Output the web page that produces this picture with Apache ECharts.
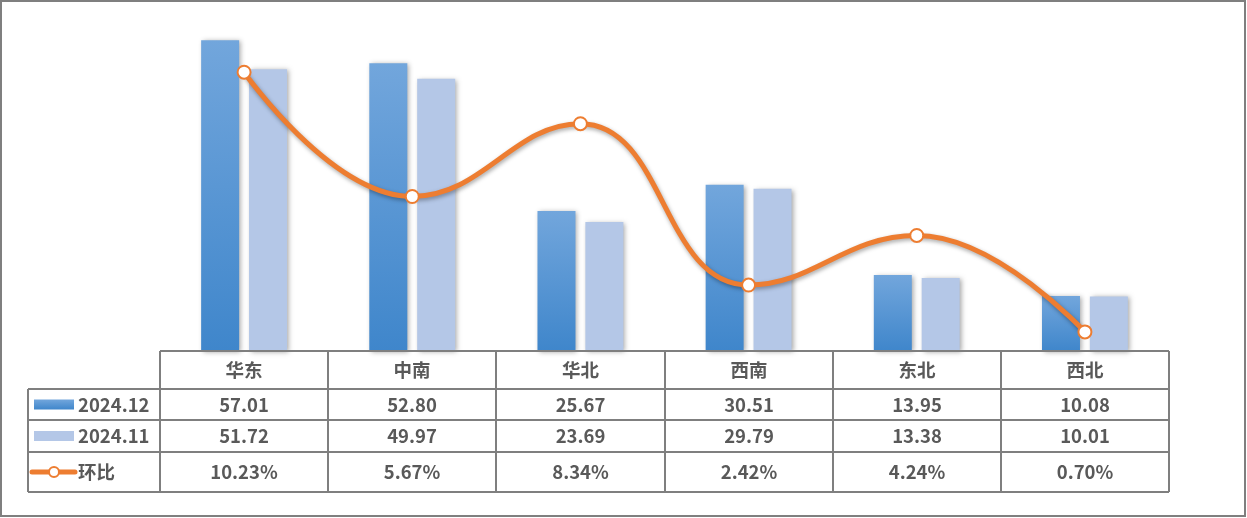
<!DOCTYPE html>
<html><head><meta charset="utf-8">
<script src="https://cdn.jsdelivr.net/npm/echarts@6/dist/echarts.min.js"></script>
<style>html,body{margin:0;padding:0;background:#fff;}#c{width:1247px;height:518px;}</style>
</head><body><div id="c"></div>
<script>
const categories = ['华东','中南','华北','西南','东北','西北'];
const seriesNames = ['2024.12','2024.11','环比'];
const dec = [57.01, 52.80, 25.67, 30.51, 13.95, 10.08];
const nov = [51.72, 49.97, 23.69, 29.79, 13.38, 10.01];
const mom = [10.23, 5.67, 8.34, 2.42, 4.24, 0.70];
const decLabels = ['57.01','52.80','25.67','30.51','13.95','10.08'];
const novLabels = ['51.72','49.97','23.69','29.79','13.38','10.01'];
const momLabels = ['10.23%','5.67%','8.34%','2.42%','4.24%','0.70%'];

const G = {left:160, right:1169, top:24, bottom:351};
const rows = [351, 389, 420, 452, 492];
const legendLeft = 28;
const lineColor = '#7f7f7f';
const textColor = '#595959';
const font = 'bold 18.5px "Noto Sans CJK SC", "Noto Sans", sans-serif';

const chart = echarts.init(document.getElementById('c'), null, {renderer:'canvas'});

const blueGrad = new echarts.graphic.LinearGradient(0,0,0,1,[
  {offset:0,color:'#72a6dc'},{offset:1,color:'#3f86cb'}]);

function buildGraphic(){
  const g = [];
  g.push({type:'rect', shape:{x:1,y:1,width:1244,height:515}, style:{fill:'none', stroke:lineColor, lineWidth:2}, z:100});
  const n = categories.length;
  const cw = (G.right - G.left)/n;
  const xs = [];
  for (let i=0;i<=n;i++) xs.push(Math.round(G.left + i*cw));
  g.push({type:'line', shape:{x1:G.left,y1:rows[0],x2:G.right,y2:rows[0]}, style:{stroke:lineColor,lineWidth:2}, z:100});
  for (let r=1;r<rows.length;r++){
    g.push({type:'line', shape:{x1:legendLeft,y1:rows[r],x2:G.right,y2:rows[r]}, style:{stroke:lineColor,lineWidth:2}, z:100});
  }
  g.push({type:'line', shape:{x1:legendLeft,y1:rows[1],x2:legendLeft,y2:rows[4]}, style:{stroke:lineColor,lineWidth:2}, z:100});
  for (let i=0;i<=n;i++){
    g.push({type:'line', shape:{x1:xs[i],y1:rows[0],x2:xs[i],y2:rows[4]}, style:{stroke:lineColor,lineWidth:2}, z:100});
  }
  const rowTexts = [categories, decLabels, novLabels, momLabels];
  for (let r=0;r<4;r++){
    const cy = (rows[r]+rows[r+1])/2;
    for (let i=0;i<n;i++){
      const cx = (xs[i]+xs[i+1])/2;
      g.push({type:'text', x:cx, y:cy, style:{text:rowTexts[r][i], font:font, fill:textColor, align:'center', verticalAlign:'middle'}, z:101});
    }
  }
  const ly1 = (rows[1]+rows[2])/2, ly2=(rows[2]+rows[3])/2, ly3=(rows[3]+rows[4])/2;
  g.push({type:'rect', shape:{x:34,y:ly1-5,width:40,height:10}, style:{fill:new echarts.graphic.LinearGradient(0,0,0,1,[{offset:0,color:'#72a6dc'},{offset:1,color:'#3f86cb'}])}, z:101});
  g.push({type:'rect', shape:{x:34,y:ly2-5,width:40,height:10}, style:{fill:'#b4c7e7'}, z:101});
  g.push({type:'line', shape:{x1:32,y1:ly3,x2:75,y2:ly3}, style:{stroke:'#ed7d31',lineWidth:5,lineCap:'round'}, z:101});
  g.push({type:'circle', shape:{cx:54,cy:ly3,r:5}, style:{fill:'#fff',stroke:'#ed7d31',lineWidth:2}, z:102});
  [ly1,ly2,ly3].forEach((y,k)=>{
    g.push({type:'text', x:78, y:y, style:{text:seriesNames[k], font:font, fill:textColor, align:'left', verticalAlign:'middle'}, z:101});
  });
  return g;
}

chart.setOption({
  animation:false,
  backgroundColor:'#fff',
  grid:{left:G.left, right:1247-G.right, top:G.top, bottom:518-G.bottom, containLabel:false},
  xAxis:{type:'category', data:categories, axisLine:{show:false}, axisTick:{show:false}, axisLabel:{show:false}, splitLine:{show:false}},
  yAxis:[
    {type:'value', min:0, max:60, show:false, splitLine:{show:false}},
    {type:'value', min:0, max:12, show:false, splitLine:{show:false}}
  ],
  series:[
    {name:seriesNames[0], type:'bar', data:dec, barWidth:38, barGap:'26%',
     itemStyle:{color:blueGrad, shadowColor:'rgba(0,0,0,0.35)', shadowBlur:5, shadowOffsetX:2, shadowOffsetY:1}},
    {name:seriesNames[1], type:'bar', data:nov, barWidth:38, barGap:'26%',
     itemStyle:{color:'#b4c7e7', shadowColor:'rgba(0,0,0,0.35)', shadowBlur:5, shadowOffsetX:2, shadowOffsetY:1}},
    {name:seriesNames[2], type:'line', yAxisIndex:1, data:mom, smooth:0.45, symbol:'circle', symbolSize:13,
     lineStyle:{color:'#ed7d31', width:5, shadowColor:'rgba(0,0,0,0.35)', shadowBlur:4, shadowOffsetX:1, shadowOffsetY:2},
     itemStyle:{color:'#fff', borderColor:'#ed7d31', borderWidth:2}, z:5}
  ],
  graphic: buildGraphic()
});
</script></body></html>
